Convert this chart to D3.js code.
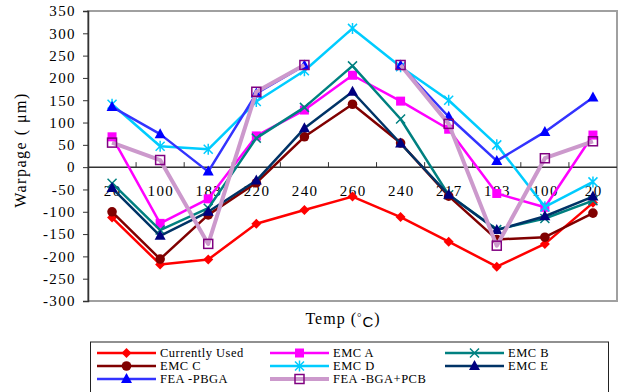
<!DOCTYPE html>
<html><head><meta charset="utf-8">
<script src="https://cdn.jsdelivr.net/npm/d3@7"></script>
<style>body{margin:0;background:#fff}svg{display:block}text{font-family:"Liberation Serif","Times New Roman",serif;fill:#000}</style>
</head><body><svg id="c" width="619" height="392"></svg>
<script>
const categories = ["20","100","183","220","240","260","240","217","183","100","20"];
const currentlyUsed = [-113,-218,-207,-127,-96,-66,-112,-167,-223,-172,-80];
const emcA = [68,-126,-71,70,128,206,148,85,-59,-90,72];
const emcB = [-36,-141,-92,65,134,227,108,-62,-140,-115,-75];
const emcC = [-100,-206,-107,-35,68,141,54,-65,-162,-157,-103];
const emcD = [141,47,40,147,216,311,225,150,50,-89,-33];
const emcE = [-47,-154,-100,-30,87,169,53,-62,-141,-110,-66];
const feaPBGA = [135,74,-10,165,228,null,228,113,14,79,156];
const feaBGAPCB = [55,16,-172,169,229,null,229,97,-176,20,58];
const yTicks = [-300,-250,-200,-150,-100,-50,0,50,100,150,200,250,300,350];
const seriesNames = ["Currently Used","EMC A","EMC B","EMC C","EMC D","EMC E","FEA -PBGA","FEA -BGA+PCB"];

const series = [
 {name:seriesNames[0], values:currentlyUsed, line:"#ff0000", mk:"#ff0000", w:2.5, shape:"diamond"},
 {name:seriesNames[1], values:emcA, line:"#ff00ff", mk:"#ff00ff", w:2.5, shape:"square"},
 {name:seriesNames[2], values:emcB, line:"#008080", mk:"#008080", w:2.5, shape:"x"},
 {name:seriesNames[3], values:emcC, line:"#800000", mk:"#800000", w:2.5, shape:"circle"},
 {name:seriesNames[4], values:emcD, line:"#00ccff", mk:"#00ccff", w:2.5, shape:"asterisk"},
 {name:seriesNames[5], values:emcE, line:"#003366", mk:"#000080", w:2.5, shape:"triangle"},
 {name:seriesNames[6], values:feaPBGA, line:"#3333ff", mk:"#0000ff", w:2.5, shape:"triangle"},
 {name:seriesNames[7], values:feaBGAPCB, line:"#cc99cc", mk:"#800080", w:4, shape:"hsquare"}
];

const svg = d3.select("#c");
const L=88, R=617, T=11, B=301;
const x = d3.scalePoint().domain(d3.range(categories.length)).range([L,R]).padding(0.5);
const xb = d3.scaleBand().domain(d3.range(categories.length)).range([L,R]);
const y = d3.scaleLinear().domain([-300,350]).range([B,T]);

// plot border
svg.append("rect").attr("x",L).attr("y",T).attr("width",R-L).attr("height",B-T)
  .attr("fill","none").attr("stroke","#a0a0a0").attr("stroke-width",2);

// y axis
const ya = svg.append("g").attr("transform",`translate(${L},0)`)
  .call(d3.axisLeft(y).tickValues(yTicks).tickSize(5).tickPadding(7).tickFormat(d=>String(d)));
ya.select(".domain").attr("stroke","#333").attr("stroke-width",1.5);
ya.selectAll(".tick line").attr("stroke","#333");
ya.selectAll("text").style("font-size","15px").style("letter-spacing","1.4px").attr("font-family",null);

// x axis at zero
const xg = svg.append("g").attr("transform",`translate(0,${y(0)})`);
xg.append("line").attr("x1",L).attr("x2",R).attr("stroke","#333").attr("stroke-width",1.5);
xg.selectAll(".tk").data(d3.range(1,categories.length)).join("line")
  .attr("x1",d=>xb(d)).attr("x2",d=>xb(d)).attr("y1",0).attr("y2",-5).attr("stroke","#333");
xg.selectAll(".lb").data(categories).join("text")
  .attr("x",(d,i)=>x(i)+0.7).attr("y",29).attr("text-anchor","middle")
  .style("font-size","15px").style("letter-spacing","1.4px").text(d=>d);

function drawMarker(g, shape, cx, cy, col){
  if(shape==="diamond") g.append("path").attr("d",`M${cx},${cy-5}L${cx+5},${cy}L${cx},${cy+5}L${cx-5},${cy}Z`).attr("fill",col);
  else if(shape==="square") g.append("rect").attr("x",cx-4.5).attr("y",cy-4.5).attr("width",9).attr("height",9).attr("fill",col);
  else if(shape==="hsquare") g.append("rect").attr("x",cx-4.5).attr("y",cy-4.5).attr("width",9).attr("height",9).attr("fill","none").attr("stroke",col).attr("stroke-width",1.5);
  else if(shape==="circle") g.append("circle").attr("cx",cx).attr("cy",cy).attr("r",4.8).attr("fill",col);
  else if(shape==="triangle") g.append("path").attr("d",`M${cx},${cy-6}L${cx+5.5},${cy+4}L${cx-5.5},${cy+4}Z`).attr("fill",col);
  else if(shape==="x") g.append("path").attr("d",`M${cx-4.5},${cy-4.5}L${cx+4.5},${cy+4.5}M${cx-4.5},${cy+4.5}L${cx+4.5},${cy-4.5}`).attr("stroke",col).attr("stroke-width",1.5);
  else if(shape==="asterisk") g.append("path").attr("d",`M${cx-4.5},${cy-4.5}L${cx+4.5},${cy+4.5}M${cx-4.5},${cy+4.5}L${cx+4.5},${cy-4.5}M${cx},${cy-5.5}L${cx},${cy+5.5}`).attr("stroke",col).attr("stroke-width",1.5);
}

const line = d3.line().defined(d=>d!=null).x((d,i)=>x(i)).y(d=>y(d));
series.forEach(s=>{
  const g = svg.append("g");
  g.append("path").datum(s.values).attr("d",line).attr("fill","none")
    .attr("stroke",s.line).attr("stroke-width",s.w).attr("stroke-linejoin","round");
  s.values.forEach((v,i)=>{ if(v!=null) drawMarker(g,s.shape,x(i),y(v),s.mk); });
});

// axis titles
svg.append("text").attr("transform","translate(26,150) rotate(-90)").attr("text-anchor","middle")
  .style("font-size","16px").style("letter-spacing","1.5px").text("Warpage ( μm)");
const xt = svg.append("text").attr("x",343).attr("y",324).attr("text-anchor","middle").style("font-size","16px").style("letter-spacing","1px");
xt.append("tspan").text("Temp (");
xt.append("tspan").attr("dy",-3).style("font-size","11px").text("°");
xt.append("tspan").attr("dy",6).style("font-family","Liberation Sans, Arial, sans-serif").style("font-size","15px").text("C");
xt.append("tspan").attr("dy",-3).text(")");

// legend
svg.append("rect").attr("x",90.5).attr("y",342).attr("width",518).attr("height",60)
  .attr("fill","#fff").attr("stroke","#222").attr("stroke-width",1);
const colX=[97,270,445], rowY=[353,366,379];
series.forEach((s,i)=>{
  const cx=colX[i%3], cy=rowY[Math.floor(i/3)];
  const g=svg.append("g");
  g.append("line").attr("x1",cx).attr("x2",cx+59).attr("y1",cy).attr("y2",cy).attr("stroke",s.line).attr("stroke-width",s.w);
  drawMarker(g,s.shape,cx+29.5,cy,s.mk);
  g.append("text").attr("x",cx+63).attr("y",cy+4.3).style("font-size","12.5px").style("letter-spacing","0.5px").text(s.name);
});
</script></body></html>
